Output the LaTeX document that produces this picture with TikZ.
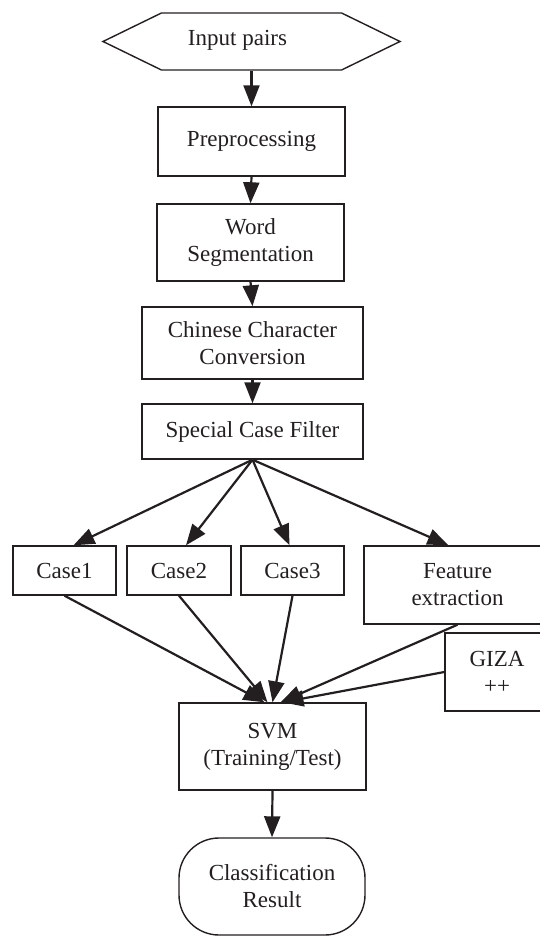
\documentclass[tikz,border=0pt]{standalone}
\usepackage{fontspec}
\setmainfont{Liberation Serif}
\usetikzlibrary{arrows.meta,shapes.symbols,calc}
\definecolor{ink}{RGB}{35,31,32}
\begin{document}
\begin{tikzpicture}[x=1pt,y=-1pt,
  every node/.style={font=\fontsize{23}{27}\selectfont, align=center, inner sep=0pt, text=ink},
  box/.style={draw=ink, line width=1.4pt, rectangle},
  arr/.style={draw=ink, line width=2.2pt, -{Triangle[length=21pt,width=16pt]}},
]
\useasboundingbox (0,0) rectangle (540,936);
\node[draw=ink, line width=1.4pt, shape=signal, signal to=east and west, signal pointer angle=52,
      minimum width=297pt, minimum height=57pt,
      label={[xshift=-14pt,yshift=1pt,text=ink]center:Input pairs}] (in) at (251.5,41.5) {};
\node[box, minimum width=187pt, minimum height=69pt] (pre) at (251.5,141.5) {Preprocessing};
\node[box, minimum width=187pt, minimum height=77pt] (ws) at (250.5,242.5) {Word\\Segmentation};
\node[box, minimum width=221pt, minimum height=72pt] (ccc) at (252.5,343) {Chinese Character\\Conversion};
\node[box, minimum width=221pt, minimum height=55pt] (scf) at (252.5,431.5) {Special Case Filter};
\node[box, minimum width=103pt, minimum height=49pt] (c1) at (64.5,570.5) {Case1};
\node[box, minimum width=104pt, minimum height=49pt] (c2) at (179,570.5) {Case2};
\node[box, minimum width=103pt, minimum height=49pt] (c3) at (292.5,570.5) {Case3};
\node[box, minimum width=187pt, minimum height=78pt] (fe) at (457.5,585) {Feature\\extraction};
\node[box, minimum width=104pt, minimum height=78pt] (giza) at (497,672) {GIZA\\++};
\node[box, minimum width=187pt, minimum height=87pt] (svm) at (272.5,746.5) {SVM\\(Training/Test)};
\node[draw=ink, line width=1.4pt, rounded corners=40pt, minimum width=186pt, minimum height=97pt] (cr) at (272,886.5) {Classification\\Result};

\draw[arr] (in.south) -- (pre.north);
\draw[arr] (pre.south) -- (ws.north);
\draw[arr] (ws.south) -- (ccc.north);
\draw[arr] (ccc.south) -- (scf.north);

\coordinate (apex) at (scf.south);
\draw[arr] (apex) -- ($(c1.north)+(9,0)$);
\draw[arr] (apex) -- ($(c2.north)+(7,0)$);
\draw[arr] (apex) -- ($(c3.north)+(-3,0)$);
\draw[arr] (apex) -- ($(fe.north)+(-9,0)$);

\draw[arr] (c1.south) -- ($(svm.north)+(-8,0)$);
\draw[arr] (c2.south) -- ($(svm.north)+(-5,0)$);
\draw[arr] (c3.south) -- ($(svm.north)+(0,0)$);
\draw[arr] (fe.south) -- ($(svm.north)+(8,0)$);
\draw[arr] (giza.west) -- ($(svm.north)+(10,0)$);

\draw[arr] (svm.south) -- (cr.north);
\end{tikzpicture}
\end{document}
